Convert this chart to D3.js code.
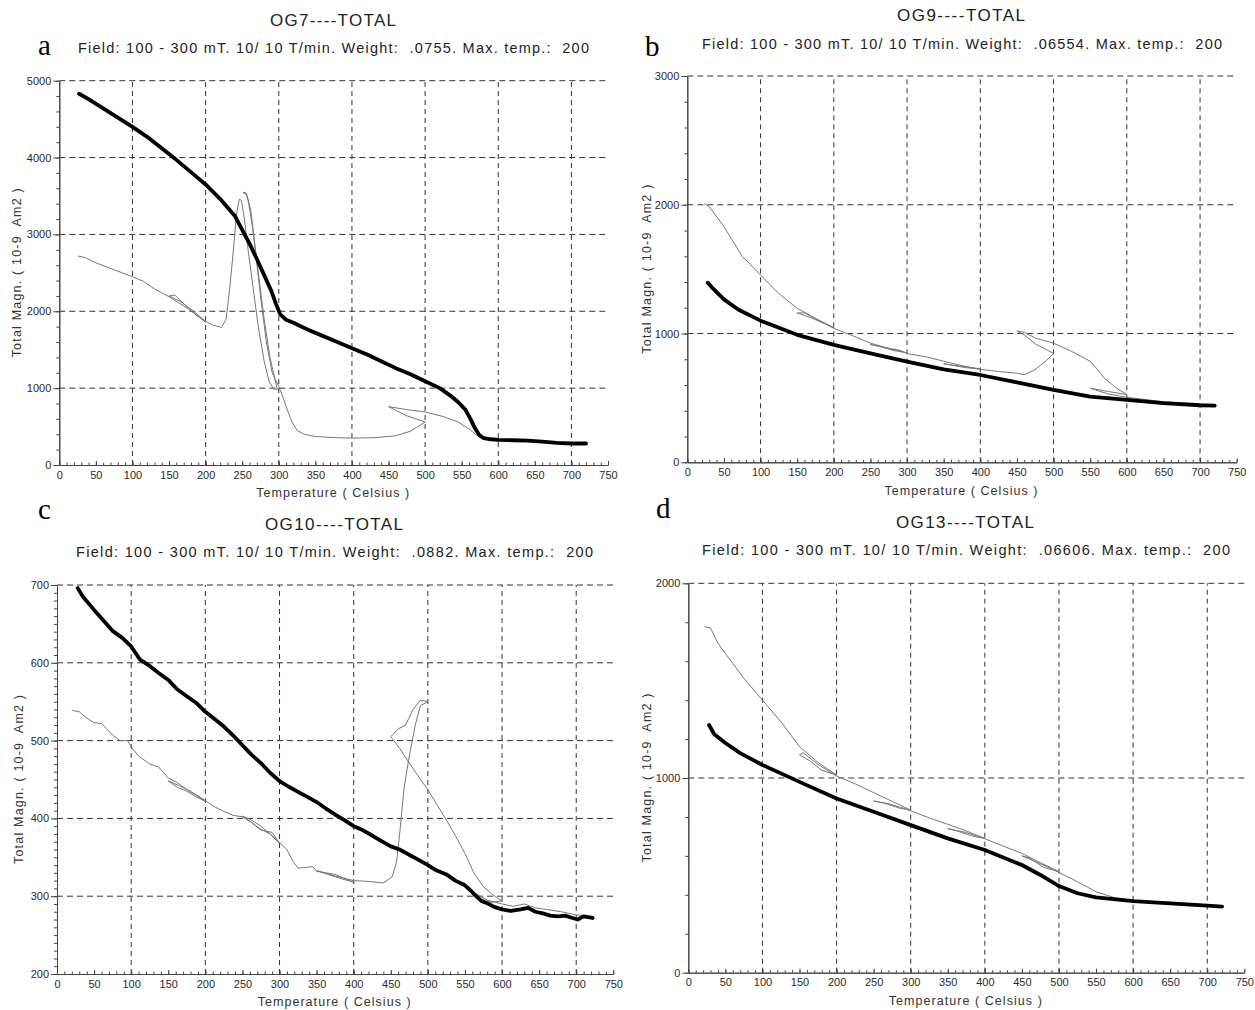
<!DOCTYPE html>
<meta charset="utf-8">
<head>
    <title>Thermomagnetic curves</title>
    <style>
        body { margin: 0; background: #fff; }
        text { white-space: pre; }
    </style>
</head>
<body>

<script src="https://d3js.org/d3.v7.min.js"></script>

<div id="my_dataviz"></div>

<script>

    // ---- axis labels / ticks
    var tempTicks = [0, 50, 100, 150, 200, 250, 300, 350, 400, 450, 500, 550, 600, 650, 700, 750];
    var tempGrid = [100, 200, 300, 400, 500, 600, 700];

    // ---- OG7 (a)
    var og7Ticks = [0, 1000, 2000, 3000, 4000, 5000];
    var og7Heat = [[27,4830],[40,4760],[60,4640],[80,4520],[100,4400],[120,4270],[140,4120],[160,3970],[180,3810],[200,3650],
        [220,3460],[240,3240],[250,3060],[260,2880],[270,2680],[280,2470],[290,2260],[296,2100],[302,1960],[310,1890],
        [320,1850],[340,1760],[360,1680],[380,1600],[400,1520],[420,1440],[440,1350],[460,1260],[480,1180],[500,1090],
        [520,1000],[535,900],[545,820],[555,720],[562,600],[568,480],[574,390],[580,350],[590,335],[600,328],[620,322],
        [640,316],[660,305],[680,288],[700,280],[720,280]];
    var og7Cycles = [[25,2720],[35,2700],[50,2630],[75,2540],[100,2450],[115,2390],[130,2290],[150,2190],[175,2040],[200,1860],
        [190,1930],[170,2100],[158,2210],[150,2200],[165,2130],[185,1990],[200,1870],
        [210,1820],[222,1790],[228,1900],[233,2300],[238,2800],[242,3250],[246,3460],[249,3440],[253,3200],[258,2800],
        [265,2300],[272,1800],[280,1350],[287,1080],[293,990],[298,985],
        [295,1100],[288,1400],[280,1900],[272,2500],[264,3100],[258,3450],[254,3550],[251,3540],
        [256,3530],[262,3300],[268,2800],[275,2200],[283,1600],[291,1200],[300,1020],
        [305,900],[310,760],[318,560],[325,450],[335,400],[350,370],[380,355],[400,350],[430,355],[460,380],[480,440],[500,560],
        [475,640],[450,760],
        [475,720],[500,690],[525,630],[545,560],[560,470],[570,390],[578,355],[590,340]];

    // ---- OG9 (b)
    var og9Ticks = [0, 1000, 2000, 3000];
    var og9Heat = [[28,1395],[35,1350],[50,1265],[70,1185],[100,1100],[150,990],[200,912],[250,846],[300,782],[350,722],
        [400,678],[450,620],[500,562],[550,510],[600,484],[650,460],[700,443],[720,440]];
    var og9Cycles = [[23,2010],[30,1985],[50,1830],[75,1600],[100,1455],[125,1310],[150,1196],[175,1118],[200,1045],
        [180,1100],[160,1160],[150,1160],[170,1120],[190,1070],[200,1040],
        [225,985],[250,925],[275,885],[300,850],
        [280,870],[260,905],[250,915],[270,890],[290,870],[300,845],
        [325,820],[350,785],[375,750],[400,725],
        [380,735],[360,755],[350,765],[375,745],[400,722],
        [425,705],[450,692],[460,680],[475,720],[490,790],[500,846],
        [475,920],[460,990],[450,1020],
        [460,1010],[475,965],[500,925],[525,860],[550,785],[560,720],[570,650],[585,580],[600,525],
        [575,550],[550,575],[575,530],[600,505],
        [650,470],[700,450]];

    // ---- OG10 (c)
    var og10Ticks = [200, 300, 400, 500, 600, 700];
    var og10Heat = [[28,696],[35,685],[50,668],[62,655],[75,641],[88,632],[100,621],[112,604],[125,596],[137,587],[150,578],
        [162,566],[175,557],[187,549],[200,537],[212,528],[225,518],[237,507],[250,494],[262,482],[275,471],[287,459],
        [300,448],[312,441],[325,434],[337,428],[350,421],[362,413],[375,405],[387,398],[400,390],[412,385],[425,378],
        [437,371],[450,364],[462,360],[475,353],[487,347],[500,340],[512,333],[525,328],[537,320],[550,314],[558,307],
        [565,300],[572,294],[580,291],[590,286],[600,283],[612,281],[625,283],[635,285],[645,280],[655,278],[665,275],
        [675,274],[685,275],[695,272],[702,270],[710,274],[722,272]];
    var og10Cycles = [[20,539],[30,537],[40,529],[50,523],[60,522],[75,507],[85,500],[95,500],[100,492],[110,480],[125,470],
        [137,466],[150,452],[162,446],[175,437],[187,430],[200,422],
        [187,428],[175,435],[162,440],[150,448],[165,442],[180,435],[200,423],
        [212,415],[225,409],[237,404],[250,402],[262,395],[275,386],[287,380],[300,368],
        [290,382],[275,385],[262,395],[250,403],[262,398],[275,390],[290,378],[300,369],
        [310,360],[318,345],[325,336],[335,337],[345,338],[350,332],[375,328],[400,318],
        [385,322],[365,328],[350,333],[375,326],[400,320],
        [420,319],[440,317],[452,325],[458,345],[463,390],[468,440],[475,480],[483,520],[490,545],[500,550],
        [490,552],[480,540],[470,520],[460,515],[450,505],
        [462,490],[475,471],[490,450],[500,437],[512,418],[525,398],[537,378],[550,355],[562,330],[575,312],[590,300],[600,294],
        [585,292],[570,300],[555,310],[550,312],[565,303],[580,295],[600,290],
        [615,287],[630,290],[645,285],[660,283],[680,280],[700,276],[715,275]];

    // ---- OG13 (d)
    var og13Ticks = [0, 1000, 2000];
    var og13Heat = [[28,1272],[35,1225],[50,1180],[70,1128],[100,1067],[150,980],[200,895],[250,827],[300,758],[350,690],
        [400,630],[450,553],[475,502],[500,445],[525,408],[550,387],[600,368],[650,356],[700,344],[720,339]];
    var og13Cycles = [[22,1777],[30,1770],[40,1692],[50,1640],[75,1512],[100,1400],[125,1289],[150,1161],[175,1080],[200,1015],
        [180,1040],[165,1085],[150,1120],[155,1130],[175,1070],[200,1010],
        [225,970],[250,925],[275,880],[300,835],
        [285,845],[265,870],[250,882],[270,868],[290,845],[300,832],
        [325,795],[350,762],[375,728],[400,690],
        [385,700],[365,725],[350,740],[375,720],[400,688],
        [425,650],[450,613],[475,565],[500,519],
        [480,540],[460,590],[450,600],[475,560],[500,515],
        [525,467],[550,416],[575,385],[600,372],[650,357],[700,345]];

    var panels = [
        {letter: "a", title: "OG7----TOTAL", weight: ".0755", ticks: og7Ticks, minor: 200, heat: og7Heat, cycles: og7Cycles,
         left: 59.3, right: 608, top: 80.7, bottom: 465,
         lx: 38, ly: 55, tx: 333, ty: 26, tw: 126, sx: 78, sy: 53, sw: 511, ylx: 21, xly: 497},
        {letter: "b", title: "OG9----TOTAL", weight: ".06554", ticks: og9Ticks, minor: 200, heat: og9Heat, cycles: og9Cycles,
         left: 687.3, right: 1236.7, top: 76, bottom: 462.3,
         lx: 645, ly: 56, tx: 961, ty: 21, tw: 128, sx: 702, sy: 49, sw: 520, ylx: 651, xly: 495},
        {letter: "c", title: "OG10----TOTAL", weight: ".0882", ticks: og10Ticks, minor: 10, heat: og10Heat, cycles: og10Cycles,
         left: 57, right: 613.3, top: 585, bottom: 974,
         lx: 38, ly: 519, tx: 334, ty: 530, tw: 138, sx: 76, sy: 557, sw: 517, ylx: 23, xly: 1006},
        {letter: "d", title: "OG13----TOTAL", weight: ".06606", ticks: og13Ticks, minor: 200, heat: og13Heat, cycles: og13Cycles,
         left: 688.3, right: 1244.3, top: 583.3, bottom: 972.7,
         lx: 656, ly: 518, tx: 965, ty: 528, tw: 138, sx: 702, sy: 555, sw: 528, ylx: 651, xly: 1005}
    ];

    var svg = d3.select("#my_dataviz")
        .append("svg")
        .attr("width", 1255)
        .attr("height", 1010)
        .style("font-family", "'Liberation Sans', Arial, sans-serif");

    var tickFont = "'Liberation Sans Narrow', 'Liberation Sans', sans-serif";
    var plain = d3.format("d");

    panels.forEach(function(p) {
        var yDom = [p.ticks[0], p.ticks[p.ticks.length - 1]];
        var x = d3.scaleLinear().domain([0, 750]).range([p.left, p.right]);
        var y = d3.scaleLinear().domain(yDom).range([p.bottom, p.top]);
        var g = svg.append("g");

        // grid (dashed)
        g.append("g")
            .selectAll("line.v")
            .data(tempGrid)
            .enter().append("line")
            .attr("x1", function(d) { return x(d); })
            .attr("x2", function(d) { return x(d); })
            .attr("y1", y(yDom[0]))
            .attr("y2", y(yDom[1]))
            .attr("stroke", "#333")
            .attr("stroke-dasharray", "5,4");
        g.append("g")
            .selectAll("line.h")
            .data(p.ticks.slice(1))
            .enter().append("line")
            .attr("x1", x(0))
            .attr("x2", x(750))
            .attr("y1", function(d) { return y(d); })
            .attr("y2", function(d) { return y(d); })
            .attr("stroke", "#333")
            .attr("stroke-dasharray", "6,4");

        // curves
        var line = d3.line()
            .x(function(d) { return x(d[0]); })
            .y(function(d) { return y(d[1]); });
        g.append("path")
            .datum(p.cycles)
            .attr("d", line)
            .attr("fill", "none")
            .attr("stroke", "#777")
            .attr("stroke-width", 1)
            .attr("stroke-linejoin", "round");
        g.append("path")
            .datum(p.heat)
            .attr("d", line)
            .attr("fill", "none")
            .attr("stroke", "#000")
            .attr("stroke-width", 3.8)
            .attr("stroke-linejoin", "round")
            .attr("stroke-linecap", "round");

        // x axis, minor then major
        g.append("g")
            .attr("transform", "translate(0," + p.bottom + ")")
            .call(d3.axisBottom(x).tickValues(d3.range(0, 751, 10)).tickSizeInner(-2.5).tickSizeOuter(0).tickFormat(""));
        var xa = g.append("g")
            .attr("transform", "translate(0," + p.bottom + ")")
            .call(d3.axisBottom(x).tickValues(tempTicks).tickSizeInner(-4).tickSizeOuter(0).tickPadding(6).tickFormat(plain));

        // y axis, minor then major
        g.append("g")
            .attr("transform", "translate(" + p.left + ",0)")
            .call(d3.axisLeft(y).tickValues(d3.range(yDom[0], yDom[1] + 1, p.minor)).tickSizeInner(3).tickSizeOuter(0).tickFormat(""));
        var ya = g.append("g")
            .attr("transform", "translate(" + p.left + ",0)")
            .call(d3.axisLeft(y).tickValues(p.ticks).tickSizeInner(6).tickSizeOuter(0).tickPadding(2).tickFormat(plain));

        g.selectAll(".domain, .tick line").attr("stroke", "#444");
        [xa, ya].forEach(function(a) {
            a.attr("font-family", tickFont).attr("font-size", 11);
            a.selectAll("text").attr("fill", "#2a2a2a");
        });

        // labels
        g.append("text")
            .attr("x", p.lx).attr("y", p.ly)
            .attr("font-family", "'Liberation Serif', 'DejaVu Serif', serif")
            .attr("font-size", 29)
            .text(p.letter);
        g.append("text")
            .attr("x", p.tx).attr("y", p.ty)
            .attr("text-anchor", "middle")
            .attr("font-size", 17)
            .attr("fill", "#222")
            .attr("textLength", p.tw)
            .text(p.title);
        g.append("text")
            .attr("x", p.sx).attr("y", p.sy)
            .attr("font-size", 14.5)
            .attr("fill", "#222")
            .attr("textLength", p.sw)
            .text("Field: 100 - 300 mT. 10/ 10 T/min. Weight:  " + p.weight + ". Max. temp.:  200");
        g.append("text")
            .attr("transform", "translate(" + p.ylx + "," + (p.top + p.bottom) / 2 + ") rotate(-90)")
            .attr("text-anchor", "middle")
            .attr("font-size", 12.5)
            .attr("fill", "#333")
            .attr("textLength", 169)
            .text("Total Magn. ( 10-9  Am2 )");
        g.append("text")
            .attr("x", (x(0) + x(750)) / 2 - 1)
            .attr("y", p.xly)
            .attr("text-anchor", "middle")
            .attr("font-size", 12.5)
            .attr("fill", "#333")
            .attr("textLength", 153)
            .text("Temperature ( Celsius )");
    });

</script>
</body>
